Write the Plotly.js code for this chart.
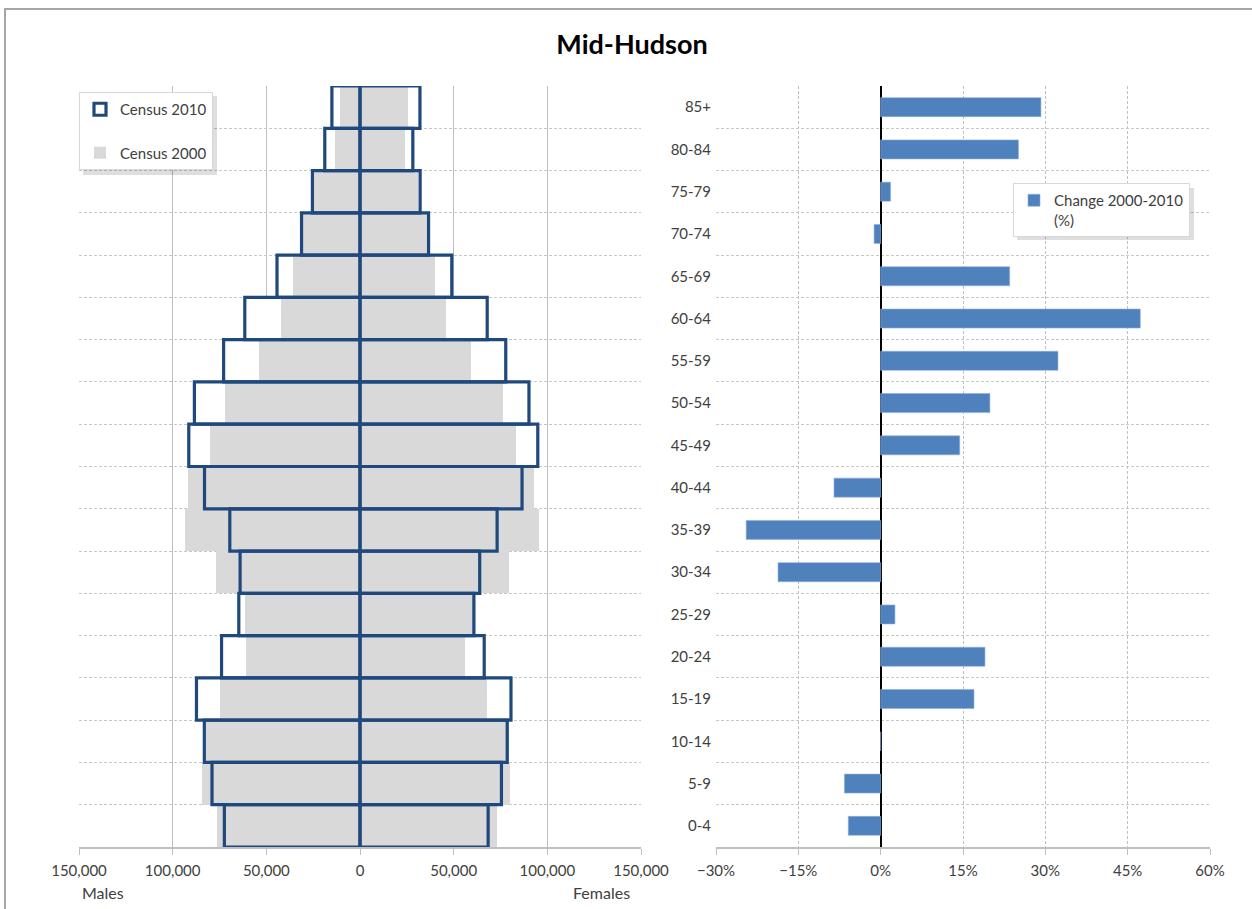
<!DOCTYPE html>
<html>
<head>
<meta charset="utf-8">
<script src="https://cdn.plot.ly/plotly-3.0.1.min.js"></script>
<style>
  html, body { margin: 0; padding: 0; background: #ffffff; }
  #chart { width: 1252px; height: 909px; }
</style>
</head>
<body>
<div id="chart"></div>
<script>
// ---- Data ----
const ageGroups = ['0-4','5-9','10-14','15-19','20-24','25-29','30-34','35-39','40-44',
                   '45-49','50-54','55-59','60-64','65-69','70-74','75-79','80-84','85+'];

const males2010   = [72400, 79000, 83100, 87300, 73900, 64700, 64000, 69500, 83000,
                     91400, 88400, 72800, 61500, 44300, 31200, 25400, 18800, 15000];
const females2010 = [68400, 75500, 78600, 80600, 66300, 60800, 63900, 73200, 86500,
                     94900, 90200, 77800, 67900, 49000, 36600, 32100, 28200, 32000];
const males2000   = [76500, 84100, 82000, 74900, 60800, 61500, 77000, 93200, 92000,
                     80000, 71800, 54100, 42300, 35800, 32000, 24700, 13600, 10600];
const females2000 = [72900, 80200, 79500, 68000, 56100, 60500, 79400, 95600, 93000,
                     83100, 76100, 59200, 46000, 39800, 36700, 30900, 24200, 25600];

const changePct   = [-5.9, -6.6, 0, 17.0, 19.0, 2.6, -18.7, -24.5, -8.5,
                     14.4, 19.9, 32.3, 47.3, 23.5, -1.2, 1.8, 25.1, 29.2];

const popTickVals  = [-150000, -100000, -50000, 0, 50000, 100000, 150000];
const popTickText  = ['150,000', '100,000', '50,000', '0', '50,000', '100,000', '150,000'];

const seriesNames = { c2010: 'Census 2010', c2000: 'Census 2000', change: 'Change 2000-2010<br>(%)' };

// ---- Styles ----
const FONT = 'Lato, "Open Sans", "DejaVu Sans", sans-serif';
const BLUE_DARK = '#1F497D';
const GRAY_FILL = '#D9D9D9';
const BAR_BLUE = '#4F81BD';
const GRID = '#BFBFBF';
const TXT = '#404040';

const neg = a => a.map(v => -v);

const traces = [
  // 2010 white backing (so gridlines are hidden inside the 2010 boxes)
  { type: 'bar', orientation: 'h', y: ageGroups, x: neg(males2010), xaxis: 'x', yaxis: 'y',
    marker: { color: '#ffffff', line: { width: 0 } }, showlegend: false, hoverinfo: 'skip' },
  { type: 'bar', orientation: 'h', y: ageGroups, x: females2010, xaxis: 'x', yaxis: 'y',
    marker: { color: '#ffffff', line: { width: 0 } }, showlegend: false, hoverinfo: 'skip' },
  // 2000 gray
  { type: 'bar', orientation: 'h', y: ageGroups, x: neg(males2000), xaxis: 'x', yaxis: 'y',
    name: seriesNames.c2000, legendgroup: 'g2000', legendrank: 2, legend: 'legend',
    marker: { color: GRAY_FILL, line: { width: 0 } }, showlegend: true },
  { type: 'bar', orientation: 'h', y: ageGroups, x: females2000, xaxis: 'x', yaxis: 'y',
    name: seriesNames.c2000, legendgroup: 'g2000',
    marker: { color: GRAY_FILL, line: { width: 0 } }, showlegend: false },
  // 2010 outlines
  { type: 'bar', orientation: 'h', y: ageGroups, x: neg(males2010), xaxis: 'x', yaxis: 'y',
    name: seriesNames.c2010, legendgroup: 'g2010', legendrank: 1, legend: 'legend',
    marker: { color: 'rgba(255,255,255,0)', line: { color: BLUE_DARK, width: 3.2 } }, showlegend: true },
  { type: 'bar', orientation: 'h', y: ageGroups, x: females2010, xaxis: 'x', yaxis: 'y',
    name: seriesNames.c2010, legendgroup: 'g2010',
    marker: { color: 'rgba(255,255,255,0)', line: { color: BLUE_DARK, width: 3.2 } }, showlegend: false },
  // Change chart
  { type: 'bar', orientation: 'h', y: ageGroups, x: changePct, xaxis: 'x2', yaxis: 'y2',
    name: seriesNames.change, legend: 'legend2', width: 0.45,
    marker: { color: BAR_BLUE, line: { color: '#8fb0dc', width: 0.6 } }, showlegend: true }
];

const W = 1252, H = 909;
const px = v => v / W;
const py = v => (H - v) / H;

function shadow(x0, y0, x1, y1) {
  return { type: 'rect', xref: 'paper', yref: 'paper',
    x0: px(x0), x1: px(x1), y0: py(y1), y1: py(y0),
    line: { width: 0 }, fillcolor: 'rgba(0,0,0,0.13)', layer: 'above' };
}

const layout = {
  width: W, height: H,
  margin: { l: 0, r: 0, t: 0, b: 0 },
  paper_bgcolor: '#ffffff',
  plot_bgcolor: 'rgba(0,0,0,0)',
  font: { family: FONT, size: 15, color: TXT },
  barmode: 'overlay',
  bargap: 0,
  title: {
    text: '<b>Mid-Hudson</b>',
    font: { family: FONT, size: 27, color: '#000000' },
    x: px(632), xanchor: 'center', xref: 'paper',
    y: py(45), yanchor: 'middle', yref: 'paper'
  },
  xaxis: {
    domain: [px(79), px(641)], anchor: 'y',
    range: [-150000, 150000],
    tickmode: 'array', tickvals: popTickVals, ticktext: popTickText,
    showgrid: true, gridcolor: GRID, gridwidth: 1,
    zeroline: false,
    showline: true, linecolor: GRID, linewidth: 2,
    ticks: 'outside', ticklen: 6, tickcolor: GRID, tickwidth: 1,
    ticklabelstandoff: 3,
    tickfont: { family: FONT, size: 15, color: TXT },
    fixedrange: true
  },
  yaxis: {
    domain: [py(847), py(86)], anchor: 'x',
    type: 'category', categoryorder: 'array', categoryarray: ageGroups,
    tickson: 'boundaries', ticks: '',
    showgrid: true, gridcolor: '#C8C8C8', gridwidth: 1, griddash: '3px,2px',
    showticklabels: false, zeroline: false, showline: false,
    fixedrange: true
  },
  xaxis2: {
    domain: [px(716), px(1210)], anchor: 'y2',
    range: [-30, 60], tickmode: 'linear', tick0: 0, dtick: 15, ticksuffix: '%',
    showgrid: true, gridcolor: GRID, gridwidth: 1, griddash: '3px,2px',
    zeroline: true, zerolinecolor: '#000000', zerolinewidth: 2,
    showline: true, linecolor: GRID, linewidth: 2,
    ticks: 'outside', ticklen: 6, tickcolor: GRID, tickwidth: 1,
    ticklabelstandoff: 3,
    tickfont: { family: FONT, size: 15, color: TXT },
    fixedrange: true
  },
  yaxis2: {
    domain: [py(847), py(86)], anchor: 'x2',
    type: 'category', categoryorder: 'array', categoryarray: ageGroups,
    tickson: 'boundaries', ticks: '',
    showgrid: true, gridcolor: '#C8C8C8', gridwidth: 1, griddash: '3px,2px',
    showline: false, zeroline: false,
    tickfont: { family: FONT, size: 15, color: TXT },
    ticklabelstandoff: 4,
    fixedrange: true
  },
  legend: {
    x: px(79), xanchor: 'left', y: py(92), yanchor: 'top',
    bgcolor: '#ffffff', bordercolor: '#D8D8D8', borderwidth: 1,
    font: { family: FONT, size: 15, color: TXT },
    traceorder: 'grouped', tracegroupgap: 21,
    itemwidth: 30
  },
  legend2: {
    x: px(1013), xanchor: 'left', y: py(183), yanchor: 'top',
    bgcolor: '#ffffff', bordercolor: '#D8D8D8', borderwidth: 1,
    font: { family: FONT, size: 15, color: TXT },
    valign: 'top', itemwidth: 30
  },
  annotations: [
    { text: 'Males', xref: 'paper', yref: 'paper', x: px(103), y: py(892),
      xanchor: 'center', yanchor: 'middle', showarrow: false,
      font: { family: FONT, size: 16, color: TXT } },
    { text: 'Females', xref: 'paper', yref: 'paper', x: px(601), y: py(892),
      xanchor: 'center', yanchor: 'middle', showarrow: false,
      font: { family: FONT, size: 16, color: TXT } }
  ],
  shapes: [
    // outer frame (top and left edges visible)
    { type: 'rect', xref: 'paper', yref: 'paper', x0: px(5), x1: 1.05, y0: -0.05, y1: py(9),
      line: { color: '#A6A6A6', width: 2 }, fillcolor: 'rgba(0,0,0,0)', layer: 'above' },
    // legend drop shadows
    shadow(83, 96, 217, 175),
    shadow(1017, 188, 1194, 240)
  ],
  showlegend: true
};

Plotly.newPlot('chart', traces, layout, { staticPlot: true, displayModeBar: false });
</script>
</body>
</html>
